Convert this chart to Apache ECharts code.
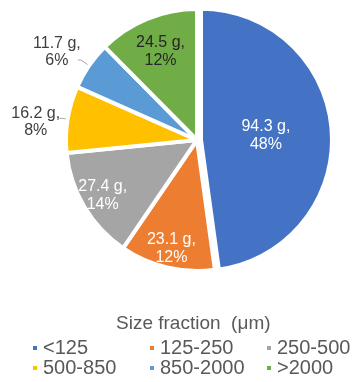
<!DOCTYPE html>
<html>
<head>
<meta charset="utf-8">
<script src="https://cdn.jsdelivr.net/npm/echarts@6/dist/echarts.min.js"></script>
<style>
  html, body { margin: 0; padding: 0; background: #fff; }
  #chart { width: 352px; height: 382px; }
</style>
</head>
<body>
<div id="chart"></div>
<script>
// Mass of each size fraction (g)
const categories = ['<125', '125-250', '250-500', '500-850', '850-2000', '>2000'];
const masses = [94.3, 23.1, 27.4, 16.2, 11.7, 24.5];
const colors = ['#4472C4', '#ED7D31', '#A5A5A5', '#FFC000', '#5B9BD5', '#70AD47'];
const labelColors = ['#ffffff', '#ffffff', '#ffffff', '#404040', '#404040', '#262626'];
// how far out along the radius each inside label sits (1 = default midpoint)
const labelPush = [0.95, 1.63, 1.6, 1, 1, 1.4];
const outsideSlices = [3, 4];
// small nudges for the two outside labels
const outsideShift = { 3: [3, 4], 4: [6, -8] };
const legendColumns = [['<125', '500-850'], ['125-250', '850-2000'], ['250-500', '>2000']];
const legendLeft = [31, 148, 265];

const FONT = '"Liberation Sans", Arial, sans-serif';
const chart = echarts.init(document.getElementById('chart'), null, { renderer: 'canvas' });

const CENTER = [197, 140];
const RADIUS = 131;

const data = categories.map((name, i) => {
  const outside = outsideSlices.indexOf(i) >= 0;
  return {
    name,
    value: masses[i],
    selected: i === 0,
    itemStyle: { color: colors[i] },
    label: outside ? {
      position: 'outside',
      alignTo: 'none',
      distanceToLabelLine: 1,
      formatter: '{t|{c} g,}\n{t|{d}%}',
      rich: { t: { width: 52, align: 'center', color: labelColors[i], fontFamily: FONT, fontSize: 16, lineHeight: 17 } }
    } : {
      position: 'inside',
      color: labelColors[i]
    },
    labelLine: outside ? { show: true, length: i === 4 ? 10 : 5, length2: 3 } : { show: false }
  };
});

chart.setOption({
  animation: false,
  title: {
    text: 'Size fraction  (\u03bcm)',
    left: 111,
    top: 309,
    textStyle: { fontFamily: FONT, fontSize: 19, fontWeight: 'normal', color: '#595959' }
  },
  legend: legendColumns.map((col, k) => ({
    data: col,
    orient: 'vertical',
    left: legendLeft[k],
    top: 338,
    height: 80,
    padding: 0,
    itemWidth: 6,
    itemHeight: 6,
    itemGap: 0,
    icon: 'rect',
    selectedMode: false,
    textStyle: { fontFamily: FONT, fontSize: 20, color: '#595959', lineHeight: 20 }
  })),
  series: [{
    type: 'pie',
    center: CENTER,
    radius: RADIUS,
    startAngle: 90,
    clockwise: true,
    selectedMode: 'single',
    selectedOffset: 4,
    percentPrecision: 0,
    avoidLabelOverlap: false,
    data,
    itemStyle: { borderColor: '#ffffff', borderWidth: 4 },
    select: { itemStyle: { borderColor: '#ffffff', borderWidth: 4 } },
    emphasis: { disabled: true },
    label: {
      formatter: '{c} g,\n{d}%',
      fontFamily: FONT,
      fontSize: 16,
      lineHeight: 18,
      align: 'center'
    },
    labelLine: { lineStyle: { color: '#A6A6A6', width: 1 }, smooth: false },
    labelLayout: function (p) {
      const i = p.dataIndex;
      if (outsideShift[i]) return { dx: outsideShift[i][0], dy: outsideShift[i][1] };
      const r = p.labelRect;
      const lx = r.x + r.width / 2 - CENTER[0];
      const ly = r.y + r.height / 2 - CENTER[1];
      const f = labelPush[i] - 1;
      return { dx: lx * f, dy: ly * f };
    }
  }]
});
</script>
</body>
</html>
